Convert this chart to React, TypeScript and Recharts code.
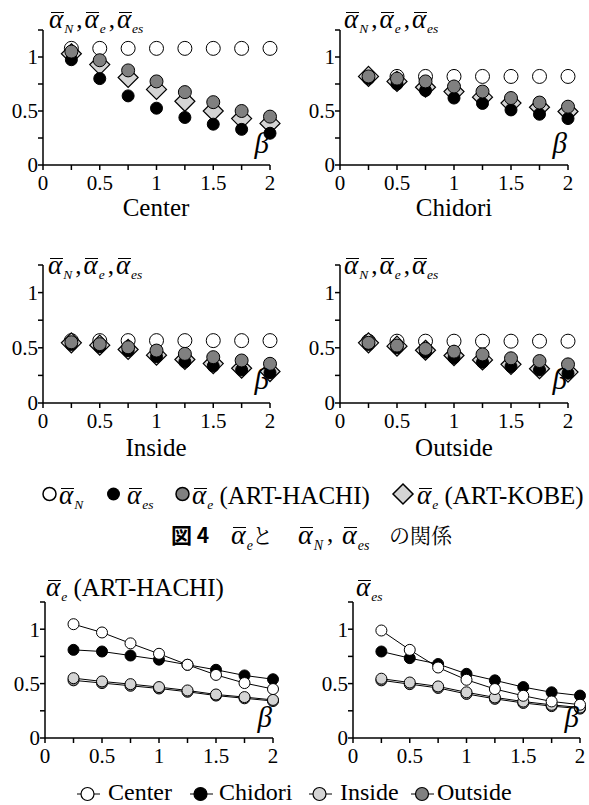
import React from "react";
import { ScatterChart, Scatter, LineChart, Line, XAxis, YAxis } from "recharts";

const BETA = [0.25, 0.5, 0.75, 1, 1.25, 1.5, 1.75, 2];
const X_TICKS = [0, 0.25, 0.5, 0.75, 1, 1.25, 1.5, 1.75, 2];
const Y_TICKS = [0, 0.25, 0.5, 0.75, 1, 1.25];

// top panels: alpha_N, alpha_es, alpha_e (ART-HACHI), alpha_e (ART-KOBE)
const centerN = [1.08, 1.08, 1.08, 1.08, 1.08, 1.08, 1.08, 1.08];
const centerEs = [0.975, 0.8, 0.64, 0.526, 0.44, 0.378, 0.33, 0.294];
const centerHachi = [1.05, 0.97, 0.876, 0.774, 0.675, 0.582, 0.5, 0.448];
const centerKobe = [1.03, 0.93, 0.81, 0.7, 0.59, 0.5, 0.43, 0.385];

const chidoriN = [0.82, 0.82, 0.82, 0.82, 0.82, 0.82, 0.82, 0.82];
const chidoriEs = [0.8, 0.75, 0.69, 0.62, 0.57, 0.51, 0.47, 0.43];
const chidoriHachi = [0.82, 0.8, 0.774, 0.727, 0.68, 0.62, 0.578, 0.54];
const chidoriKobe = [0.82, 0.774, 0.72, 0.68, 0.628, 0.573, 0.535, 0.495];

const insideN = [0.565, 0.565, 0.565, 0.565, 0.565, 0.565, 0.565, 0.565];
const insideEs = [0.53, 0.51, 0.474, 0.42, 0.373, 0.335, 0.3, 0.275];
const insideHachi = [0.55, 0.533, 0.505, 0.475, 0.445, 0.415, 0.385, 0.355];
const insideKobe = [0.545, 0.524, 0.485, 0.433, 0.394, 0.357, 0.315, 0.285];

const outsideN = [0.56, 0.56, 0.56, 0.56, 0.56, 0.56, 0.56, 0.56];
const outsideEs = [0.53, 0.5, 0.46, 0.41, 0.37, 0.33, 0.3, 0.27];
const outsideHachi = [0.545, 0.52, 0.49, 0.465, 0.44, 0.405, 0.38, 0.35];
const outsideKobe = [0.545, 0.515, 0.478, 0.43, 0.39, 0.35, 0.31, 0.28];

// bottom left: alpha_e (ART-HACHI) per arrangement
const hachiCenter = [1.046, 0.97, 0.87, 0.774, 0.673, 0.58, 0.505, 0.45];
const hachiChidori = [0.81, 0.795, 0.758, 0.72, 0.673, 0.627, 0.575, 0.54];
const hachiInside = [0.55, 0.52, 0.495, 0.468, 0.437, 0.4, 0.376, 0.35];
const hachiOutside = [0.53, 0.505, 0.48, 0.455, 0.425, 0.39, 0.365, 0.34];

// bottom right: alpha_es per arrangement
const esCenter = [0.988, 0.81, 0.648, 0.535, 0.45, 0.388, 0.336, 0.306];
const esChidori = [0.795, 0.734, 0.68, 0.59, 0.53, 0.468, 0.42, 0.39];
const esInside = [0.545, 0.51, 0.474, 0.42, 0.373, 0.335, 0.305, 0.28];
const esOutside = [0.53, 0.495, 0.46, 0.405, 0.36, 0.322, 0.293, 0.27];

const SERIF = "Liberation Serif";
const MINCHO = "Noto Serif CJK JP";
const GOTHIC = "Noto Sans CJK JP";
const GRAY = "#808080";
const LIGHT = "#d4d4d4";

const YW = 40;
const MT = 10;
const MR = 20;
const XH = 30;

const pts = (vals: number[]) => BETA.map((b, i) => ({ x: b, y: vals[i] }));

const XTick = (p: any) => {
  const v = p.payload.value;
  if (Math.abs(v * 2 - Math.round(v * 2)) > 1e-6) return <g />;
  return (
    <text x={p.x} y={p.y + 20} textAnchor="middle" fontFamily={SERIF} fontSize={21} fill="#000">
      {v}
    </text>
  );
};

const YTick = (p: any) => {
  const v = p.payload.value;
  if (!(v === 0 || v === 0.5 || v === 1)) return <g />;
  return (
    <text x={p.x} y={p.y} dy="0.35em" textAnchor="end" fontFamily={SERIF} fontSize={21} fill="#000">
      {v}
    </text>
  );
};

const axes = (withYKey: boolean) => [
  <XAxis
    key="x"
    type="number"
    dataKey="x"
    domain={[0, 2]}
    ticks={X_TICKS}
    interval={0}
    height={XH}
    tickSize={5}
    tickMargin={0}
    stroke="#000"
    axisLine={{ stroke: "#000", strokeWidth: 1.5 }}
    tickLine={{ stroke: "#000", strokeWidth: 1.5 }}
    tick={<XTick />}
  />,
  <YAxis
    key="y"
    type="number"
    dataKey={withYKey ? "y" : undefined}
    domain={[0, 1.25]}
    ticks={Y_TICKS}
    interval={0}
    width={YW}
    tickSize={5}
    tickMargin={0}
    stroke="#000"
    axisLine={{ stroke: "#000", strokeWidth: 1.5 }}
    tickLine={{ stroke: "#000", strokeWidth: 1.5 }}
    tick={<YTick />}
  />,
];

const OpenDot = (p: any) => <circle cx={p.cx} cy={p.cy} r={7} fill="#fff" stroke="#000" strokeWidth={1} />;
const BlackDot = (p: any) => <circle cx={p.cx} cy={p.cy} r={6} fill="#000" stroke="#000" strokeWidth={1} />;
const GrayDot = (p: any) => <circle cx={p.cx} cy={p.cy} r={6.5} fill={GRAY} stroke="#000" strokeWidth={1} />;
const Diamond = (p: any) => {
  const s = 10;
  return (
    <polygon
      points={`${p.cx},${p.cy - s} ${p.cx + s},${p.cy} ${p.cx},${p.cy + s} ${p.cx - s},${p.cy}`}
      fill={LIGHT}
      stroke="#000"
      strokeWidth={1.2}
    />
  );
};

const lineDot = (fill: string) => (p: any) =>
  <circle key={p.index} cx={p.cx} cy={p.cy} r={5.5} fill={fill} stroke="#000" strokeWidth={1} />;

function box(left: number, top: number, w: number, h: number): React.CSSProperties {
  return { position: "absolute", left: left - YW, top: top - MT, width: YW + w + MR, height: MT + h + XH };
}

function ScatterPanel(props: { left: number; top: number; w: number; h: number; n: number[]; es: number[]; hachi: number[]; kobe: number[] }) {
  const { left, top, w, h } = props;
  return (
    <div style={box(left, top, w, h)}>
      <ScatterChart width={YW + w + MR} height={MT + h + XH} margin={{ top: MT, right: MR, bottom: 0, left: 0 }}>
        {axes(true)}
        <Scatter data={pts(props.n)} shape={OpenDot} isAnimationActive={false} />
        <Scatter data={pts(props.kobe)} shape={Diamond} isAnimationActive={false} />
        <Scatter data={pts(props.es)} shape={BlackDot} isAnimationActive={false} />
        <Scatter data={pts(props.hachi)} shape={GrayDot} isAnimationActive={false} />
      </ScatterChart>
    </div>
  );
}

function LinePanel(props: { left: number; top: number; w: number; h: number; center: number[]; chidori: number[]; inside: number[]; outside: number[] }) {
  const { left, top, w, h } = props;
  const data = BETA.map((b, i) => ({
    x: b,
    center: props.center[i],
    chidori: props.chidori[i],
    inside: props.inside[i],
    outside: props.outside[i],
  }));
  return (
    <div style={box(left, top, w, h)}>
      <LineChart width={YW + w + MR} height={MT + h + XH} data={data} margin={{ top: MT, right: MR, bottom: 0, left: 0 }}>
        {axes(false)}
        <Line dataKey="outside" type="linear" stroke="#000" strokeWidth={1} dot={lineDot(GRAY)} isAnimationActive={false} />
        <Line dataKey="inside" type="linear" stroke="#000" strokeWidth={1} dot={lineDot(LIGHT)} isAnimationActive={false} />
        <Line dataKey="chidori" type="linear" stroke="#000" strokeWidth={1} dot={lineDot("#000")} isAnimationActive={false} />
        <Line dataKey="center" type="linear" stroke="#000" strokeWidth={1} dot={lineDot("#fff")} isAnimationActive={false} />
      </LineChart>
    </div>
  );
}

// alpha with overbar and italic subscript
function Abar({ sub, fs = 27 }: { sub: string; fs?: number }) {
  return (
    <span style={{ whiteSpace: "nowrap", fontFamily: SERIF }}>
      <span style={{ position: "relative", fontStyle: "italic", fontSize: fs }}>
        α
        <span style={{ position: "absolute", left: "0.06em", right: "-0.02em", top: "0.3em", borderTop: "1.5px solid #000" }} />
      </span>
      <span style={{ position: "relative", top: fs * 0.2, fontSize: fs * 0.5, fontStyle: "italic", marginLeft: 1 }}>{sub}</span>
    </span>
  );
}

function At({ x, base, fs = 25, children, center, right }: { x: number; base: number; fs?: number; children: React.ReactNode; center?: boolean; right?: boolean }) {
  const style: React.CSSProperties = {
    position: "absolute",
    top: base - 0.84 * fs,
    fontFamily: SERIF,
    fontSize: fs,
    lineHeight: 1,
    whiteSpace: "nowrap",
    color: "#000",
  };
  if (center) {
    style.left = x - 150;
    style.width = 300;
    style.textAlign = "center";
  } else if (right) {
    style.left = x - 100;
    style.width = 100;
    style.textAlign = "right";
  } else {
    style.left = x;
  }
  return <div style={style}>{children}</div>;
}

const Title3 = () => (
  <>
    <Abar sub="N" />
    <span style={{ margin: "0 2px 0 3px" }}>,</span>
    <Abar sub="e" />
    <span style={{ margin: "0 2px 0 3px" }}>,</span>
    <Abar sub="es" />
  </>
);

const Beta = ({ x, base }: { x: number; base: number }) => (
  <At x={x} base={base} fs={29} right>
    <i>β</i>
  </At>
);

export default function App() {
  return (
    <div style={{ position: "absolute", left: 0, top: 0, width: 589, height: 805, background: "#fff", overflow: "hidden" }}>
      <ScatterPanel left={43} top={30} w={227} h={135} n={centerN} es={centerEs} hachi={centerHachi} kobe={centerKobe} />
      <ScatterPanel left={340} top={30} w={228} h={135} n={chidoriN} es={chidoriEs} hachi={chidoriHachi} kobe={chidoriKobe} />
      <ScatterPanel left={43} top={265} w={227} h={138} n={insideN} es={insideEs} hachi={insideHachi} kobe={insideKobe} />
      <ScatterPanel left={340} top={265} w={228} h={138} n={outsideN} es={outsideEs} hachi={outsideHachi} kobe={outsideKobe} />
      <LinePanel left={45} top={602} w={228} h={136} center={hachiCenter} chidori={hachiChidori} inside={hachiInside} outside={hachiOutside} />
      <LinePanel left={353} top={602} w={227} h={136} center={esCenter} chidori={esChidori} inside={esInside} outside={esOutside} />

      <At x={49} base={27}><Title3 /></At>
      <At x={344} base={27}><Title3 /></At>
      <At x={48} base={273}><Title3 /></At>
      <At x={344} base={273}><Title3 /></At>
      <At x={46} base={595}>
        <Abar sub="e" /> (ART-HACHI)
      </At>
      <At x={356} base={595}>
        <Abar sub="es" />
      </At>

      <Beta x={269} base={153} />
      <Beta x={567} base={153} />
      <Beta x={269} base={389} />
      <Beta x={567} base={389} />
      <Beta x={272} base={727} />
      <Beta x={579} base={727} />

      <At x={156} base={216} center>Center</At>
      <At x={454} base={216} center>Chidori</At>
      <At x={156} base={456} center>Inside</At>
      <At x={454} base={456} center>Outside</At>

      <svg style={{ position: "absolute", left: 0, top: 0 }} width={589} height={805}>
        <circle cx={49.5} cy={494} r={6.5} fill="#fff" stroke="#000" strokeWidth={1.5} />
        <circle cx={113.5} cy={494} r={6.5} fill="#000" />
        <circle cx={182.5} cy={494} r={6.5} fill={GRAY} stroke="#000" strokeWidth={1.5} />
        <polygon points="403,484 413,494 403,504 393,494" fill={LIGHT} stroke="#000" strokeWidth={1.5} />

        <line x1={77} y1={794} x2={100} y2={794} stroke="#000" strokeWidth={1} />
        <circle cx={87.5} cy={794} r={6.5} fill="#fff" stroke="#000" strokeWidth={1.2} />
        <line x1={190} y1={794} x2={213} y2={794} stroke="#000" strokeWidth={1} />
        <circle cx={200.5} cy={794} r={6.5} fill="#000" stroke="#000" strokeWidth={1.2} />
        <line x1={309} y1={794} x2={332} y2={794} stroke="#000" strokeWidth={1} />
        <circle cx={319.5} cy={794} r={6.5} fill={LIGHT} stroke="#000" strokeWidth={1.2} />
        <line x1={411} y1={794} x2={434} y2={794} stroke="#000" strokeWidth={1} />
        <circle cx={422} cy={794} r={6.5} fill={GRAY} stroke="#000" strokeWidth={1.2} />
      </svg>

      <At x={59} base={503}><Abar sub="N" /></At>
      <At x={127} base={503}><Abar sub="es" /></At>
      <At x={192} base={503}>
        <Abar sub="e" /> (ART-HACHI)
      </At>
      <At x={417} base={503}>
        <Abar sub="e" /> (ART-KOBE)
      </At>

      {/* caption: 図4 ᾱe と ᾱN, ᾱes の関係 */}
      <At x={171} base={542} fs={21}>
        <span style={{ fontFamily: GOTHIC, fontWeight: 700 }}>図 4</span>
      </At>
      <At x={231} base={542}><Abar sub="e" fs={28} /></At>
      <At x={252} base={542} fs={21}>
        <span style={{ fontFamily: MINCHO }}>と</span>
      </At>
      <At x={298} base={542}><Abar sub="N" fs={28} /></At>
      <At x={327} base={542}>,</At>
      <At x={342} base={542}><Abar sub="es" fs={28} /></At>
      <At x={389} base={542} fs={21}>
        <span style={{ fontFamily: MINCHO }}>の関係</span>
      </At>

      <At x={108} base={800} fs={24}>Center</At>
      <At x={219} base={800} fs={24}>Chidori</At>
      <At x={340} base={800} fs={24}>Inside</At>
      <At x={437} base={800} fs={24}>Outside</At>
    </div>
  );
}
